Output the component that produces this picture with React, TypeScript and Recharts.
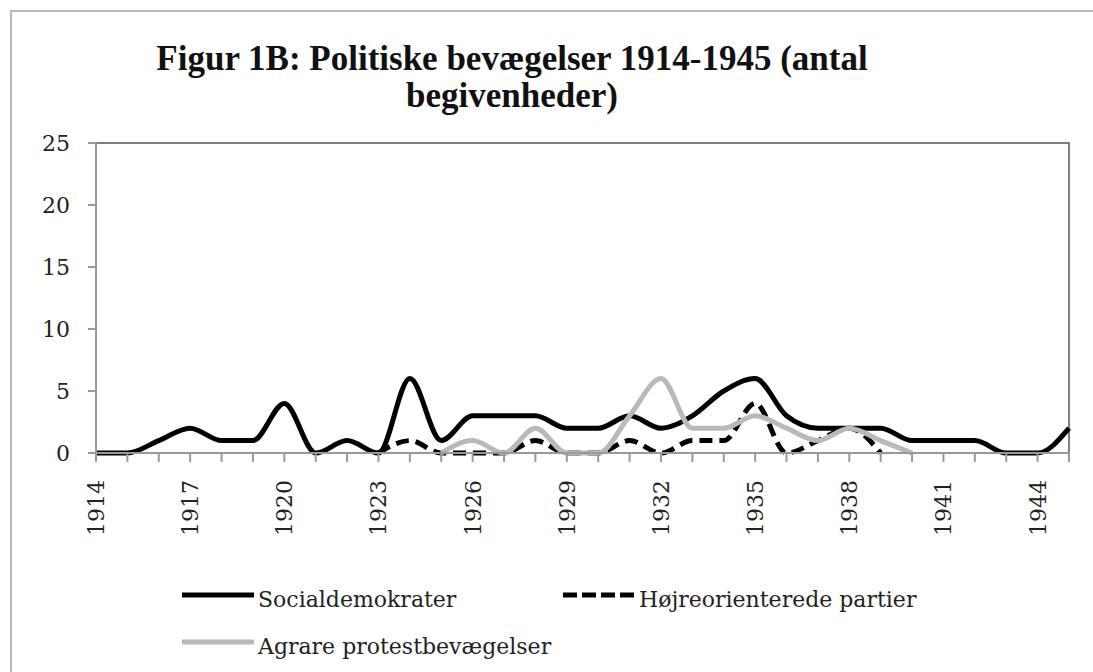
import { LineChart, Line, XAxis, YAxis, ReferenceArea } from 'recharts';

// Years on the x axis (one point per year)
const YEARS = [
  1914, 1915, 1916, 1917, 1918, 1919, 1920, 1921, 1922, 1923, 1924, 1925, 1926, 1927, 1928, 1929,
  1930, 1931, 1932, 1933, 1934, 1935, 1936, 1937, 1938, 1939, 1940, 1941, 1942, 1943, 1944, 1945,
];

// Number of events per year
const SOCIALDEMOKRATER = [
  0, 0, 1, 2, 1, 1, 4, 0, 1, 0, 6, 1, 3, 3, 3, 2,
  2, 3, 2, 3, 5, 6, 3, 2, 2, 2, 1, 1, 1, 0, 0, 2,
];
const HOJREORIENTEREDE = [
  null, null, null, null, null, null, null, null, null, 0, 1, 0, 0, 0, 1, 0,
  0, 1, 0, 1, 1, 4, 0, 1, 2, 0, null, null, null, null, null, null,
];
const AGRARE = [
  null, null, null, null, null, null, null, null, null, null, null, 0, 1, 0, 2, 0,
  0, 3, 6, 2, 2, 3, 2, 1, 2, 1, 0, null, null, null, null, null,
];

const Y_TICKS = [0, 5, 10, 15, 20, 25];
const X_LABEL_YEARS = [1914, 1917, 1920, 1923, 1926, 1929, 1932, 1935, 1938, 1941, 1944];

const SERIES = [
  { key: 'social', name: 'Socialdemokrater', values: SOCIALDEMOKRATER, color: '#000000', dash: undefined },
  { key: 'hojre', name: 'Højreorienterede partier', values: HOJREORIENTEREDE, color: '#000000', dash: '13 7' },
  { key: 'agrare', name: 'Agrare protestbevægelser', values: AGRARE, color: '#b9b9b9', dash: undefined },
];

const TITLE_FONT = '"Liberation Serif", serif';
const FONT = '"DejaVu Serif", "Liberation Serif", serif';

const chartData = YEARS.map((year, i) => {
  const row: Record<string, any> = { year };
  SERIES.forEach(s => { row[s.key] = s.values[i]; });
  return row;
});

const YearTick = ({ x, y, payload }: any) => {
  if (!X_LABEL_YEARS.includes(payload.value)) return <g />;
  return (
    <text
      x={x}
      y={y}
      transform={`rotate(-90 ${x} ${y})`}
      textAnchor="end"
      dx={-16}
      dy={8}
      fontSize={22}
      fontFamily={FONT}
      fill="#222"
    >
      {payload.value}
    </text>
  );
};

// legend line start (x) and line centre (y), as in the original figure
const LEGEND_SLOTS = [
  { left: 182, lineY: 595 },
  { left: 563, lineY: 595 },
  { left: 182, lineY: 642 },
];

export default function App() {
  return (
    <div style={{ position: 'absolute', left: 0, top: 0, width: 1093, height: 672, overflow: 'hidden', background: '#fff' }}>
      {/* outer frame */}
      <div style={{ position: 'absolute', left: 10, top: 10, width: 1200, height: 800, border: '2px solid #b8b8b8' }} />

      <div
        style={{
          position: 'absolute', left: 12, top: 40, width: 1000, textAlign: 'center',
          fontFamily: TITLE_FONT, fontWeight: 'bold', fontSize: 35, lineHeight: '37px', color: '#111',
        }}
      >
        Figur 1B: Politiske bevægelser 1914-1945 (antal
        <br />
        begivenheder)
      </div>

      <div style={{ position: 'absolute', left: 0, top: 0 }}>
        <LineChart width={1093} height={672} data={chartData} margin={{ top: 143, right: 24, bottom: 129, left: 36 }}>
          <ReferenceArea x1={1914} x2={1945} y1={0} y2={25} fill="none" stroke="#555" strokeWidth={1.5} />
          <XAxis
            dataKey="year"
            interval={0}
            tickSize={9}
            height={90}
            stroke="#999"
            strokeWidth={2}
            tick={<YearTick />}
          />
          <YAxis
            domain={[0, 25]}
            ticks={Y_TICKS}
            width={60}
            tickSize={8}
            tickMargin={18}
            stroke="#999"
            strokeWidth={2}
            tick={{ fontSize: 22, fontFamily: FONT, fill: '#222' }}
          />
          {SERIES.map(s => (
            <Line
              key={s.key}
              type="monotone"
              dataKey={s.key}
              name={s.name}
              stroke={s.color}
              strokeWidth={5}
              strokeDasharray={s.dash}
              dot={false}
              activeDot={false}
              isAnimationActive={false}
            />
          ))}
        </LineChart>
      </div>

      {SERIES.map((s, i) => (
        <div key={s.key}>
          <svg
            width={72}
            height={10}
            style={{ position: 'absolute', left: LEGEND_SLOTS[i].left, top: LEGEND_SLOTS[i].lineY - 5 }}
          >
            <line x1={0} y1={5} x2={72} y2={5} stroke={s.color} strokeWidth={5} strokeDasharray={s.dash ? '14 5' : undefined} />
          </svg>
          <span
            style={{
              position: 'absolute', left: LEGEND_SLOTS[i].left + 76, top: LEGEND_SLOTS[i].lineY - 9,
              fontFamily: FONT, fontSize: 22, lineHeight: '28px', color: '#222', whiteSpace: 'nowrap',
            }}
          >
            {s.name}
          </span>
        </div>
      ))}
    </div>
  );
}
